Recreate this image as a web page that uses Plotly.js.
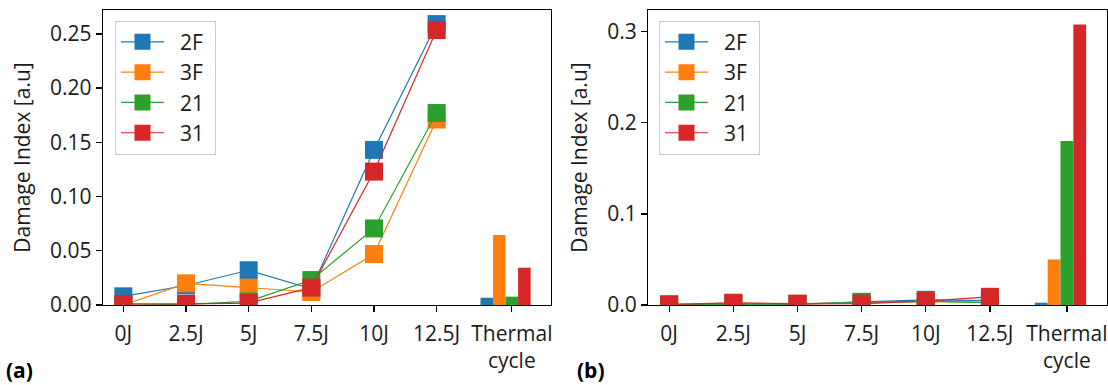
<!DOCTYPE html>
<html><head><meta charset="utf-8">
<script src="https://cdn.plot.ly/plotly-3.0.1.min.js"></script>
<style>html,body{margin:0;padding:0;background:#fff}#chart{width:1108px;height:385px}</style>
</head><body><div id="chart"></div>
<script>
// categories / tick labels
const categories = ['0J', '2.5J', '5J', '7.5J', '10J', '12.5J', 'Thermal<br>cycle'];
const seriesNames = ['2F', '3F', '21', '31'];

// (a) impact levels (lines + markers)
const a2F = [0.008, 0.018, 0.032, 0.015, 0.143, 0.259];
const a3F = [0.000, 0.020, 0.016, 0.012, 0.047, 0.171];
const a21 = [0.000, 0.0005, 0.0034, 0.023, 0.0706, 0.177];
const a31 = [0.001, 0.001, 0.0018, 0.016, 0.123, 0.2535];
// (a) thermal cycle bars
const aThermal = [0.0067, 0.0646, 0.0077, 0.0344];

// (b) impact levels (lines + markers)
const b2F = [0.0005, 0.001, 0.001, 0.0035, 0.0057, 0.0047];
const b3F = [0.0005, 0.002, 0.0015, 0.002, 0.004, 0.003];
const b21 = [0.0003, 0.001, 0.001, 0.003, 0.004, 0.0025];
const b31 = [0.0006, 0.0024, 0.0013, 0.0016, 0.0042, 0.009];
// (b) thermal cycle bars
const bThermal = [0.0025, 0.050, 0.180, 0.308];

const colors = ['#1f77b4', '#ff7f0e', '#2ca02c', '#d62728'];
const FONT = 'Open Sans, Noto Sans, DejaVu Sans, sans-serif';
const FS = 21;

// positions on the numeric x axis: impact levels at 0..5, thermal cycle slightly further
const catPos = categories.map((c, i) => (i < 6 ? i : 6.2));
const impactPos = catPos.slice(0, 6);
const thermalPos = catPos[6];
const barW = 0.2;

const aLines = [a2F, a3F, a21, a31];
const bLines = [b2F, b3F, b21, b31];

const traces = [];
function addPanel(lines, bars, xa, ya, legendId) {
  bars.forEach((v, k) => {
    traces.push({
      type: 'bar', x: [thermalPos], y: [v], width: barW, offset: -0.5 + k * barW,
      xaxis: xa, yaxis: ya, marker: {color: colors[k], line: {width: 0}},
      showlegend: false, hoverinfo: 'skip'
    });
  });
  lines.forEach((vals, k) => {
    traces.push({
      type: 'scatter', mode: 'lines+markers', name: '\u00a0\u00a0' + seriesNames[k] + '\u00a0',
      x: impactPos, y: vals, xaxis: xa, yaxis: ya, legend: legendId,
      legendgroup: legendId + k,
      line: {color: colors[k], width: 1.2},
      marker: {symbol: 'square', size: 18, color: colors[k], line: {width: 0}},
      cliponaxis: true
    });
  });
}
addPanel(aLines, aThermal, 'x', 'y', 'legend');
addPanel(bLines, bThermal, 'x2', 'y2', 'legend2');

const W = 1108;
const tickFont = {family: FONT, size: FS, color: '#1a1a1a'};
const baseX = {
  range: [-0.325, 6.825], tickmode: 'array', tickvals: catPos, ticktext: categories,
  ticks: 'outside', ticklen: 6, tickwidth: 1.3, tickcolor: '#000',
  showline: true, linewidth: 1.3, linecolor: '#000', mirror: true,
  showgrid: false, zeroline: false, fixedrange: true, tickfont: tickFont,
  ticklabeloverflow: 'allow', ticklabelstandoff: 3
};
const baseY = {
  ticks: 'outside', ticklen: 6, tickwidth: 1.3, tickcolor: '#000',
  showline: true, linewidth: 1.3, linecolor: '#000', mirror: true,
  showgrid: false, zeroline: false, fixedrange: true, tickfont: tickFont
};
const legendBase = {
  font: {family: FONT, size: FS, color: '#1a1a1a'},
  bgcolor: 'rgba(255,255,255,0.8)', bordercolor: '#cccccc', borderwidth: 1,
  xanchor: 'left', yanchor: 'top', tracegroupgap: 0, itemwidth: 43
};

const layout = {
  width: W, height: 385,
  margin: {l: 0, r: 0, t: 10, b: 80},
  paper_bgcolor: '#fff', plot_bgcolor: '#fff',
  barmode: 'overlay',
  font: {family: FONT, size: FS, color: '#1a1a1a'},
  xaxis: Object.assign({}, baseX, {domain: [103 / W, 551 / W], anchor: 'y'}),
  yaxis: Object.assign({}, baseY, {domain: [0, 1], anchor: 'x', range: [0, 0.272], dtick: 0.05, tickformat: '.2f',
    title: {text: 'Damage Index [a.u]', font: {family: FONT, size: FS, color: '#1a1a1a'}, standoff: 13}}),
  xaxis2: Object.assign({}, baseX, {domain: [648.3 / W, 1107 / W], anchor: 'y2'}),
  yaxis2: Object.assign({}, baseY, {domain: [0, 1], anchor: 'x2', range: [0, 0.3238], dtick: 0.1, tickformat: '.1f',
    title: {text: 'Damage Index [a.u]', font: {family: FONT, size: FS, color: '#1a1a1a'}, standoff: 14}}),
  legend: Object.assign({}, legendBase, {x: 115 / W, y: 1 - 10.7 / 295}),
  legend2: Object.assign({}, legendBase, {x: 659 / W, y: 1 - 10.7 / 295}),
  annotations: [
    {text: '<b>(a)</b>', xref: 'paper', yref: 'paper', x: 4 / W, y: (305 - 370) / 295, xanchor: 'left', yanchor: 'middle', showarrow: false, font: {family: FONT, size: FS, color: '#000'}},
    {text: '<b>(b)</b>', xref: 'paper', yref: 'paper', x: 575 / W, y: (305 - 370) / 295, xanchor: 'left', yanchor: 'middle', showarrow: false, font: {family: FONT, size: FS, color: '#000'}}
  ],
  showlegend: true
};

Plotly.newPlot('chart', traces, layout, {staticPlot: true, displayModeBar: false});
</script>
</body></html>
